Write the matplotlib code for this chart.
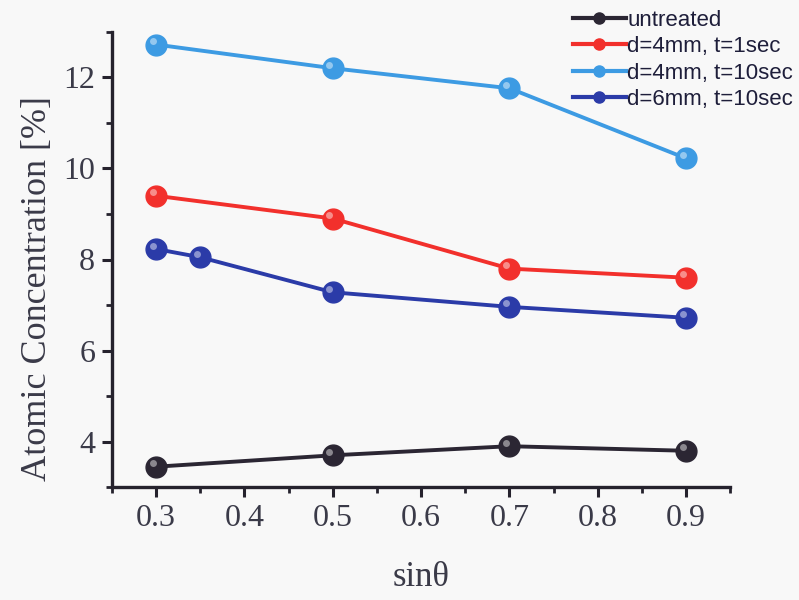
import matplotlib.pyplot as plt
from matplotlib.lines import Line2D
from matplotlib.ticker import MultipleLocator
from matplotlib import transforms

# measurement angle (sin theta) and atomic concentration for each treatment
sin_theta = [0.3, 0.5, 0.7, 0.9]
sin_theta_6mm = [0.3, 0.35, 0.5, 0.7, 0.9]

untreated = [3.45, 3.7, 3.9, 3.8]
d4_t1 = [9.4, 8.9, 7.8, 7.6]
d4_t10 = [12.72, 12.2, 11.76, 10.22]
d6_t10 = [8.23, 8.05, 7.28, 6.96, 6.72]

labels = ['untreated', 'd=4mm, t=1sec', 'd=4mm, t=10sec', 'd=6mm, t=10sec']
colors = ['#2b2633', '#f2302c', '#3d9be3', '#2b3ba8']

series = [
    (sin_theta, untreated),
    (sin_theta, d4_t1),
    (sin_theta, d4_t10),
    (sin_theta_6mm, d6_t10),
]

fig = plt.figure(figsize=(7.99, 6.0), dpi=100, facecolor='#f8f8f8')
ax = fig.add_axes([0.140, 0.188, 0.774, 0.759])
ax.set_facecolor('#f8f8f8')

for (xs, ys), c in zip(series, colors):
    ax.plot(xs, ys, color=c, lw=2.8, marker='o', ms=15,
            markerfacecolor=c, markeredgecolor=c, zorder=3)
    # small highlight so the markers look like little balls
    shine = transforms.offset_copy(ax.transData, fig=fig, x=-2.5, y=2.5, units='points')
    ax.plot(xs, ys, ls='none', marker='o', ms=5, markerfacecolor='white',
            markeredgecolor='none', alpha=0.45, transform=shine, zorder=4)

ax.set_xlim(0.25, 0.95)
ax.set_ylim(3, 13)
ax.xaxis.set_major_locator(MultipleLocator(0.1))
ax.xaxis.set_minor_locator(MultipleLocator(0.05))
ax.yaxis.set_major_locator(MultipleLocator(2))
ax.yaxis.set_minor_locator(MultipleLocator(1))
ax.set_xticks([0.3, 0.4, 0.5, 0.6, 0.7, 0.8, 0.9])
ax.set_xticklabels(['0.3', '0.4', '0.5', '0.6', '0.7', '0.8', '0.9'])
ax.set_yticks([4, 6, 8, 10, 12])
ax.set_yticklabels(['4', '6', '8', '10', '12'])

for side in ['top', 'right']:
    ax.spines[side].set_visible(False)
for side in ['left', 'bottom']:
    ax.spines[side].set_linewidth(2.4)
    ax.spines[side].set_color('#25222d')

ax.tick_params(which='major', direction='out', length=7, width=2.2, color='#25222d',
               labelsize=23, labelcolor='#3a3a48', pad=5)
ax.tick_params(which='minor', direction='out', length=4, width=2.0, color='#25222d')
for lab in ax.get_xticklabels() + ax.get_yticklabels():
    lab.set_family('Liberation Serif')

ax.set_xlabel('sinθ', family='Liberation Serif', fontsize=25, color='#3a3a48', labelpad=20)
ax.set_ylabel('Atomic Concentration [%]', family='Liberation Serif', fontsize=26,
              color='#3a3a48')
ax.yaxis.set_label_coords(-0.094, 0.437)

handles = [Line2D([], [], color=c, lw=3, marker='o', ms=8, markerfacecolor=c,
                  markeredgecolor=c) for c in colors]
fig.legend(handles, labels, loc='upper right', bbox_to_anchor=(1.012, 1.01), frameon=False,
           prop={'family': 'Liberation Sans', 'size': 16},
           labelcolor='#1e1e3a', handlelength=2.4, handletextpad=0.05,
           labelspacing=0.25, borderaxespad=0.3)

fig.savefig('out.png', dpi=100, facecolor=fig.get_facecolor())
